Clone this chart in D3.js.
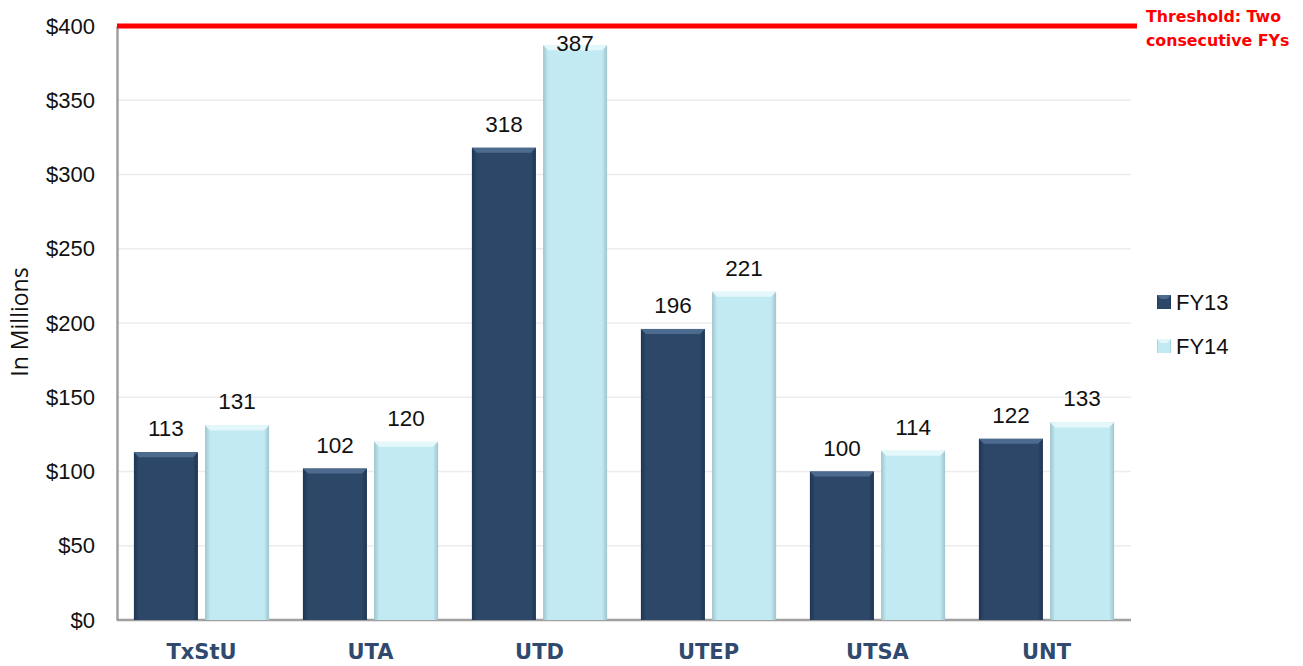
<!DOCTYPE html>
<html><head><meta charset="utf-8">
<script src="https://cdn.jsdelivr.net/npm/d3@7"></script>
<style>body{margin:0;background:#fff}svg{display:block}</style>
</head><body>
<svg id="c" width="1303" height="666"></svg>
<script>
const categories = ["TxStU","UTA","UTD","UTEP","UTSA","UNT"];
const seriesNames = ["FY13","FY14"];
const fy13 = [113,102,318,196,100,122];
const fy14 = [131,120,387,221,114,133];
const yTicks = [0,50,100,150,200,250,300,350,400];
const threshold = 400;
const thresholdLabel = ["Threshold: Two","consecutive FYs"];

const svg = d3.select("#c");
const m = {left:117, right:1131, top:26, bottom:620};
const x = d3.scaleBand().domain(categories).range([m.left, m.right]).paddingInner(0.2).paddingOuter(0.1);
const x1 = d3.scaleBand().domain(seriesNames).range([0, x.bandwidth()]).paddingInner(0.1);
const y = d3.scaleLinear().domain([0,400]).range([m.bottom, m.top]);

const defs = svg.append("defs");
function grads(id, edge, mid){
  const g = defs.append("linearGradient").attr("id",id).attr("x1","0").attr("x2","1").attr("y1","0").attr("y2","0");
  g.append("stop").attr("offset","0").attr("stop-color",edge);
  g.append("stop").attr("offset","0.08").attr("stop-color",mid);
  g.append("stop").attr("offset","0.92").attr("stop-color",mid);
  g.append("stop").attr("offset","1").attr("stop-color",edge);
}
grads("g13","#1f3553","#2d4768");
grads("g14","#9fc4cd","#c2eaf2");
const colors = {FY13:{fill:"url(#g13)", top:"#4d6b8f", solid:"#2d4768"}, FY14:{fill:"url(#g14)", top:"#e4f8fb", solid:"#c2eaf2"}};
const numFont = "Liberation Sans, Arial, sans-serif";

// gridlines
svg.append("g").selectAll("line").data(yTicks.filter(d=>d>0 && d<400)).join("line")
  .attr("x1",m.left).attr("x2",m.right).attr("y1",d=>y(d)).attr("y2",d=>y(d))
  .attr("stroke","#ececec").attr("stroke-width",1.5);

// y axis
const ya = svg.append("g").attr("transform",`translate(${m.left},0)`)
  .call(d3.axisLeft(y).tickValues(yTicks).tickSize(0).tickPadding(22).tickFormat(d=>"$"+d));
ya.select(".domain").attr("stroke","#a0a0a0").attr("stroke-width",2.5);
ya.selectAll("text").attr("font-family",numFont).attr("font-size",22).attr("fill","#111");

// x baseline
svg.append("line").attr("x1",m.left).attr("x2",m.right).attr("y1",y(0)).attr("y2",y(0)).attr("stroke","#a0a0a0").attr("stroke-width",2.5);

// bars
const data = [];
categories.forEach((c,i)=>{
  data.push({cat:c, s:"FY13", v:fy13[i]});
  data.push({cat:c, s:"FY14", v:fy14[i]});
});
const bars = svg.append("g").selectAll("g").data(data).join("g");
bars.append("rect")
  .attr("x",d=>x(d.cat)+x1(d.s)).attr("width",x1.bandwidth())
  .attr("y",d=>y(d.v)).attr("height",d=>y(0)-y(d.v))
  .attr("fill",d=>colors[d.s].fill);
bars.append("path")
  .attr("d",d=>{const x0=x(d.cat)+x1(d.s), w=x1.bandwidth(), t=y(d.v), b=5;
    return `M${x0},${t}L${x0+w},${t}L${x0+w-b},${t+b}L${x0+b},${t+b}Z`;})
  .attr("fill",d=>colors[d.s].top);

// value labels
bars.append("text")
  .attr("x",d=>x(d.cat)+x1(d.s)+x1.bandwidth()/2)
  .attr("y",d=>Math.max(y(d.v)-16, y(threshold)+25))
  .attr("text-anchor","middle")
  .attr("font-family",numFont).attr("font-size",22.5).attr("fill","#111")
  .text(d=>d.v);

// category labels
svg.append("g").selectAll("text").data(categories).join("text")
  .attr("x",d=>x(d)+x.bandwidth()/2).attr("y",659)
  .attr("text-anchor","middle").attr("font-family","DejaVu Sans, sans-serif")
  .attr("font-weight","bold").attr("font-size",21).attr("fill","#2f4a6e").text(d=>d);

// threshold
svg.append("line").attr("x1",m.left).attr("x2",1137).attr("y1",y(threshold)).attr("y2",y(threshold))
  .attr("stroke","#ff0000").attr("stroke-width",5);
svg.append("text").attr("font-family","DejaVu Sans, sans-serif").attr("font-weight","bold")
  .attr("font-size",15.8).attr("fill","#ff0000")
  .selectAll("tspan").data(thresholdLabel).join("tspan")
  .attr("x",1146).attr("y",(d,i)=>22+i*24).text(d=>d);

// y title
svg.append("text").attr("transform","translate(28,322) rotate(-90)").attr("text-anchor","middle")
  .attr("font-family","Open Sans, sans-serif").attr("font-size",23).attr("fill","#111").text("In Millions");

// legend
const lg = svg.append("g").selectAll("g").data(seriesNames).join("g")
  .attr("transform",(d,i)=>`translate(1157,${295+i*44})`);
lg.append("rect").attr("width",14).attr("height",14).attr("fill",d=>colors[d].fill);
lg.append("path").attr("d","M0,0L14,0L10,4L4,4Z").attr("fill",d=>colors[d].top);
lg.append("text").attr("x",19).attr("y",15).attr("font-family",numFont)
  .attr("font-size",22).attr("fill","#111").text(d=>d);
</script>
</body></html>
